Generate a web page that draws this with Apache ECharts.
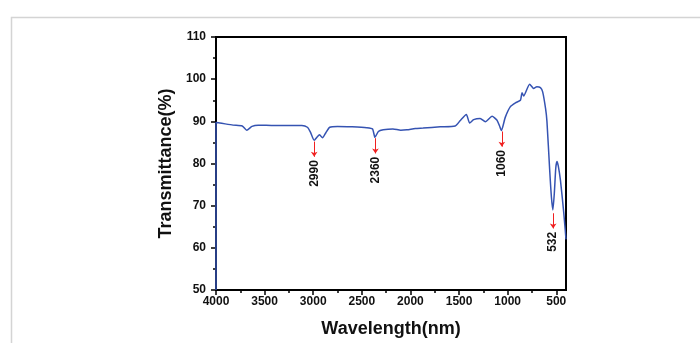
<!DOCTYPE html>
<html>
<head>
<meta charset="utf-8">
<script src="https://cdn.jsdelivr.net/npm/echarts@6/dist/echarts.min.js"></script>
<style>
  html, body { margin: 0; padding: 0; background: #fff; }
  #chart { width: 700px; height: 343px; }
</style>
</head>
<body>
<div id="chart"></div>
<script>
// FTIR spectrum, [wavenumber, transmittance %]
const spectrum = [
  [4000, 50], [4000, 89.7], [3960, 89.6], [3825, 89.1], [3730, 88.9],
  [3684, 87.9], [3630, 88.8], [3567, 89.1], [3400, 89.0], [3117, 89.0],
  [3060, 88.6], [3030, 87.5], [2990, 85.5], [2960, 86.3], [2935, 86.8],
  [2905, 86.1], [2870, 87.3], [2830, 88.6], [2750, 88.8], [2600, 88.7],
  [2450, 88.5], [2390, 88.2], [2365, 86.2], [2330, 87.6], [2280, 88.0],
  [2180, 88.2], [2100, 87.9], [2036, 88.0], [1950, 88.3], [1870, 88.4],
  [1693, 88.7], [1540, 88.9], [1487, 90.2], [1425, 91.6], [1391, 89.6],
  [1350, 90.4], [1283, 90.7], [1230, 89.9], [1160, 91.2], [1111, 90.3],
  [1085, 89.0], [1065, 87.8], [1024, 91.0], [972, 93.5], [920, 94.4],
  [869, 95.0], [852, 96.8], [836, 96.0], [774, 98.8], [733, 97.8],
  [700, 98.2], [663, 98.0], [640, 97.0], [610, 93.0], [596, 90.0],
  [568, 78.5], [550, 72.0], [535, 69.0], [520, 73.0], [505, 79.0],
  [493, 80.5], [480, 79.5], [457, 76.0], [423, 68.3], [400, 62.0]
];

const majorTicks = [4000, 3500, 3000, 2500, 2000, 1500, 1000, 500];
const minorTicks = [3750, 3250, 2750, 2250, 1750, 1250, 750];

// peak annotations
const peakPos = [2990, 2360, 1060, 532];
const peakText = ['2990', '2360', '1060', '532'];
const peakTop = [85.2, 86.0, 87.6, 68.2];

const font = '"Liberation Sans", Arial, sans-serif';
const chart = echarts.init(document.getElementById('chart'));

const baseX = {
  type: 'value',
  inverse: true,
  min: 400,
  max: 4000,
  position: 'bottom',
  splitLine: { show: false },
  axisLine: { show: true, lineStyle: { color: '#000', width: 2 } }
};

chart.setOption({
  animation: false,
  grid: {
    left: 216, right: 134, top: 37, bottom: 52,
    show: true, borderColor: '#000', borderWidth: 2
  },
  graphic: [{
    type: 'polyline',
    shape: { points: [[11.5, 343], [11.5, 17.5], [700, 17.5]] },
    style: { stroke: '#d4d4d4', lineWidth: 1.5, fill: null },
    silent: true
  }],
  xAxis: [
    Object.assign({}, baseX, {
      name: 'Wavelength(nm)',
      nameLocation: 'middle',
      nameGap: 30,
      nameTextStyle: { fontFamily: font, fontSize: 18, fontWeight: 'bold', color: '#111' },
      axisTick: { show: true, customValues: majorTicks, length: 5, lineStyle: { color: '#000', width: 1.5 } },
      axisLabel: {
        customValues: majorTicks, margin: 6, formatter: (v) => String(v),
        fontFamily: font, fontSize: 12, fontWeight: 'bold', color: '#111'
      }
    }),
    Object.assign({}, baseX, {
      axisTick: { show: true, customValues: minorTicks, length: 3, lineStyle: { color: '#000', width: 1.5 } },
      axisLabel: { show: false }
    })
  ],
  yAxis: {
    type: 'value',
    min: 50,
    max: 110,
    interval: 10,
    name: 'Transmittance(%)',
    nameLocation: 'middle',
    nameGap: 41,
    nameTextStyle: { fontFamily: font, fontSize: 18, fontWeight: 'bold', color: '#111' },
    splitLine: { show: false },
    axisLine: { show: true, lineStyle: { color: '#000', width: 2 } },
    axisTick: { show: true, length: 5, lineStyle: { color: '#000', width: 1.5 } },
    minorTick: { show: true, splitNumber: 2, length: 3, lineStyle: { color: '#000', width: 1.5 } },
    axisLabel: { margin: 10, fontFamily: font, fontSize: 12, fontWeight: 'bold', color: '#111' }
  },
  series: [{
    type: 'line',
    data: spectrum,
    symbol: 'none',
    smooth: 0.2,
    lineStyle: { color: '#3553b2', width: 1.5 },
    markLine: {
      silent: true,
      symbol: ['none', 'arrow'],
      symbolSize: 5,
      label: { show: false },
      lineStyle: { color: '#f02020', width: 1, type: 'solid' },
      data: peakPos.map((p, i) => [{ coord: [p, peakTop[i]] }, { coord: [p, peakTop[i] - 3.6] }])
    },
    markPoint: {
      silent: true,
      symbol: 'circle',
      symbolSize: 0,
      label: {
        show: true,
        formatter: (d) => d.name,
        rotate: 90,
        position: 'inside',
        align: 'right',
        verticalAlign: 'middle',
        fontFamily: font,
        fontSize: 12,
        fontWeight: 'bold',
        color: '#111'
      },
      data: peakPos.map((p, i) => ({ name: peakText[i], coord: [p, peakTop[i] - 4.4] }))
    }
  }]
});
</script>
</body>
</html>
